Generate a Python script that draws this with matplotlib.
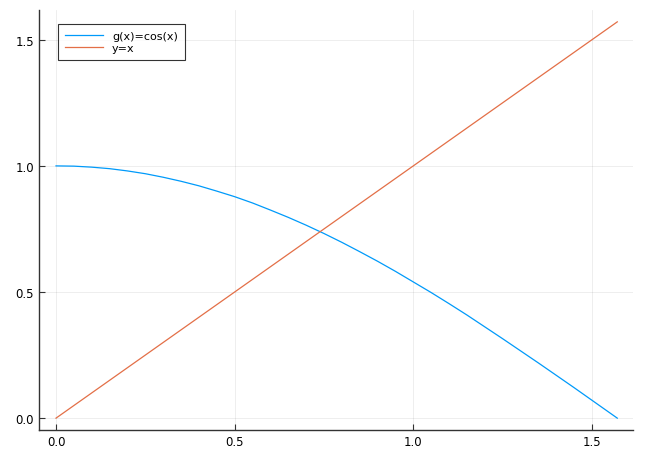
import matplotlib
matplotlib.use("Agg")
import matplotlib.pyplot as plt

# g(x)=cos(x) curve, values
x_cos = [0.0, 0.05, 0.1, 0.15, 0.2, 0.25, 0.3, 0.35, 0.4, 0.45, 0.5,
         0.55, 0.6, 0.65, 0.7, 0.75, 0.8, 0.85, 0.9, 0.95, 1.0,
         1.05, 1.1, 1.15, 1.2, 1.25, 1.3, 1.35, 1.4, 1.45, 1.5, 1.571]
y_cos = [1.0, 0.999, 0.995, 0.989, 0.980, 0.969, 0.955, 0.939, 0.921,
         0.900, 0.878, 0.853, 0.825, 0.796, 0.765, 0.732, 0.697, 0.660,
         0.622, 0.582, 0.540, 0.498, 0.454, 0.409, 0.362, 0.315, 0.267,
         0.219, 0.170, 0.121, 0.071, 0.0]

# y=x line
x_lin = [0.0, 1.571]
y_lin = [0.0, 1.571]

xticks = [0.0, 0.5, 1.0, 1.5]
yticks = [0.0, 0.5, 1.0, 1.5]

fig = plt.figure(figsize=(6.45, 4.6), dpi=100)
ax = fig.add_axes([39 / 645, 29 / 460, 594 / 645, 420 / 460])

ax.plot(x_cos, y_cos, color="#009AFA", lw=0.9, label="g(x)=cos(x)")
ax.plot(x_lin, y_lin, color="#E36F47", lw=0.9, label="y=x")

ax.set_xlim(-0.0476, 1.615)
ax.set_ylim(-0.047, 1.618)
ax.set_xticks(xticks)
ax.set_yticks(yticks)
ax.set_xticklabels([f"{t:.1f}" for t in xticks])
ax.set_yticklabels([f"{t:.1f}" for t in yticks])

ax.grid(True, color="black", alpha=0.08, lw=0.6)
ax.set_axisbelow(True)
for side in ("top", "right"):
    ax.spines[side].set_visible(False)
for side in ("left", "bottom"):
    ax.spines[side].set_linewidth(1.0)
    ax.spines[side].set_color("#333333")
ax.tick_params(direction="in", length=4, width=0.8, labelsize=8.5,
               colors="#333333", labelcolor="black")

leg = ax.legend(loc="upper left", fontsize=8, frameon=True, fancybox=False,
                edgecolor="black", borderpad=0.65, handlelength=3.4,
                labelspacing=0.15, borderaxespad=0,
                bbox_to_anchor=(0.032, 0.967))
leg.get_frame().set_linewidth(0.8)

fig.savefig("out.png", dpi=100)
